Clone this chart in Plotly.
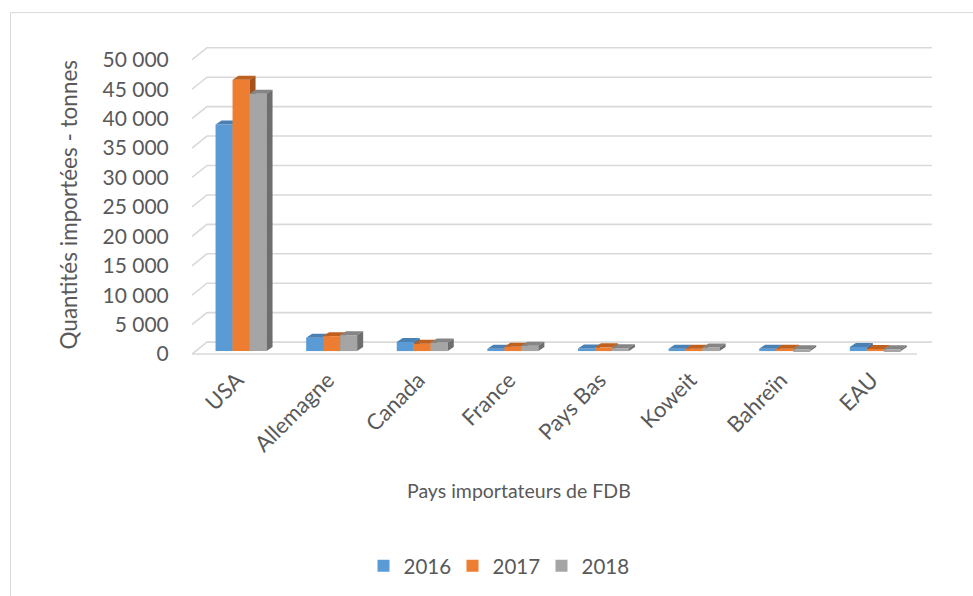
import plotly.graph_objects as go

# ---- data -----------------------------------------------------------------
categories = ["USA", "Allemagne", "Canada", "France", "Pays Bas", "Koweit", "Bahreïn", "EAU"]
years = ["2016", "2017", "2018"]
imports_2016 = [38500, 2270, 1550, 400, 450, 400, 400, 700]
imports_2017 = [46100, 2540, 1250, 730, 630, 400, 400, 350]
imports_2018 = [43700, 2710, 1450, 900, 500, 600, 300, 300]
y_ticks = [0, 5000, 10000, 15000, 20000, 25000, 30000, 35000, 40000, 45000, 50000]
y_tick_labels = ["0", "5 000", "10 000", "15 000", "20 000", "25 000",
                 "30 000", "35 000", "40 000", "45 000", "50 000"]

series = [imports_2016, imports_2017, imports_2018]

# ---- styling --------------------------------------------------------------
front_colors = ["#5b9bd5", "#ed7d31", "#a5a5a5"]
top_colors = ["#4a80b3", "#c0601f", "#858585"]
side_colors = ["#3f6e9a", "#a4521a", "#6e6e6e"]
grid_color = "#d9d9d9"
text_color = "#595959"
font_family = "Lato, 'Open Sans', sans-serif"

# ---- layout geometry (plot area in px, converted to axis units) ------------
W, H = 973, 596
M_L, M_R, M_T, M_B = 192, 38, 45, 238
X_RANGE = [-0.5, 7.7]
Y_RANGE = [-500, 52500]
px_per_x = (W - M_L - M_R) / (X_RANGE[1] - X_RANGE[0])
px_per_y = (H - M_T - M_B) / (Y_RANGE[1] - Y_RANGE[0])

wall_dx, wall_dy = 15 / px_per_x, 12 / px_per_y      # depth of back wall
plane_dx, plane_dy = 3.75 / px_per_x, 3 / px_per_y   # plane of the bar fronts
depth_dx, depth_dy = 6 / px_per_x, 4 / px_per_y      # bar depth
bar_w = 17 / px_per_x
n = len(categories)

fig = go.Figure()

# back wall gridlines with the short slanted side-wall segment
gx, gy = [], []
for v in y_ticks:
    gx += [-0.5, -0.5 + wall_dx, n - 0.5 + wall_dx, None]
    gy += [v, v + wall_dy, v + wall_dy, None]
# front edge of the floor
gx += [-0.5, n - 0.5, None]
gy += [0, 0, None]
fig.add_trace(go.Scatter(x=gx, y=gy, mode="lines", line=dict(color=grid_color, width=1.6),
                         hoverinfo="skip", showlegend=False, zorder=0))

for k, (vals, year) in enumerate(zip(series, years)):
    offset = plane_dx + (k - 1.5) * bar_w
    fig.add_trace(go.Bar(
        x=list(range(n)), y=vals, base=plane_dy, offset=offset, width=bar_w,
        name=year, marker=dict(color=front_colors[k], line=dict(width=0)),
        zorder=2 * k + 1,
    ))
    tx, ty, sx, sy = [], [], [], []
    for i, v in enumerate(vals):
        xl = i + offset
        xr = xl + bar_w
        base = plane_dy
        top = base + v
        tx += [xl, xr, xr + depth_dx, xl + depth_dx, xl, None]
        ty += [top, top, top + depth_dy, top + depth_dy, top, None]
        sx += [xr, xr + depth_dx, xr + depth_dx, xr, xr, None]
        sy += [base, base + depth_dy, top + depth_dy, top, base, None]
    fig.add_trace(go.Scatter(x=tx, y=ty, mode="lines", fill="toself", fillcolor=top_colors[k],
                             line=dict(width=0, color=top_colors[k]), hoverinfo="skip",
                             showlegend=False, zorder=2 * k + 2))
    fig.add_trace(go.Scatter(x=sx, y=sy, mode="lines", fill="toself", fillcolor=side_colors[k],
                             line=dict(width=0, color=side_colors[k]), hoverinfo="skip",
                             showlegend=False, zorder=2 * k + 2))

plot_w = W - M_L - M_R
plot_h = H - M_T - M_B


def paper_x(px):
    return (px - M_L) / plot_w


def paper_y(py):
    return (H - M_B - py) / plot_h


fig.update_layout(
    width=W, height=H,
    margin=dict(l=M_L, r=M_R, t=M_T, b=M_B),
    paper_bgcolor="white", plot_bgcolor="white",
    font=dict(family=font_family, color=text_color, size=21),
    barmode="overlay",
    showlegend=True,
    legend=dict(orientation="h", x=paper_x(497), xanchor="center",
                y=paper_y(566), yanchor="middle", font=dict(size=20.5),
                itemwidth=30, entrywidth=44, traceorder="normal"),
    xaxis=dict(range=X_RANGE, showgrid=False, zeroline=False, showline=False,
               tickmode="array", tickvals=list(range(n)), ticktext=categories,
               tickangle=-45, ticks="", ticklabelstandoff=5,
               tickfont=dict(size=22, color=text_color)),
    yaxis=dict(range=Y_RANGE, showgrid=False, zeroline=False, showline=False,
               tickmode="array", tickvals=y_ticks, ticktext=y_tick_labels,
               ticks="outside", ticklen=18, tickcolor="rgba(0,0,0,0)",
               tickfont=dict(size=21, color=text_color)),
    shapes=[dict(type="rect", xref="paper", yref="paper",
                 x0=paper_x(10.5), x1=paper_x(1100), y0=paper_y(800), y1=paper_y(12.5),
                 line=dict(color=grid_color, width=1), fillcolor="rgba(0,0,0,0)", layer="below")],
    annotations=[
        dict(text="Pays importateurs de FDB", xref="paper", yref="paper",
             x=paper_x(519), y=paper_y(492), xanchor="center", yanchor="middle",
             showarrow=False, font=dict(size=19.5, color=text_color)),
        dict(text="Quantités importées - tonnes", xref="paper", yref="paper",
             x=paper_x(68), y=paper_y(205), xanchor="center", yanchor="middle",
             textangle=-90, showarrow=False, font=dict(size=22.5, color=text_color)),
    ],
)

fig.write_html("out.html")
